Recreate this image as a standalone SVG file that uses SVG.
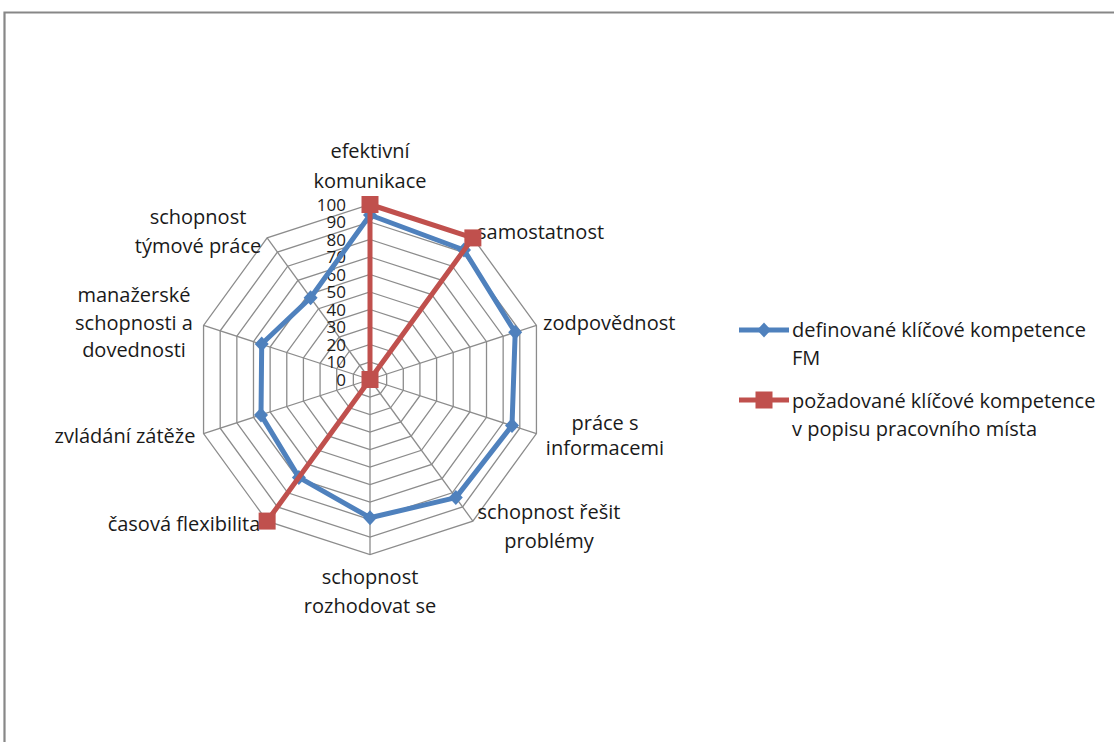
<svg xmlns="http://www.w3.org/2000/svg" xmlns:xlink="http://www.w3.org/1999/xlink" width="1114" height="742" viewBox="0 0 1114 742">
<style>
text{font-family:"Open Sans","Noto Sans","DejaVu Sans",sans-serif;font-size:20px;fill:#1a1a1a}
.tick{text-anchor:end;font-size:17px}
.mid{text-anchor:middle}
.grid polygon{fill:none;stroke:#8c8c8c;stroke-width:1.3}
.spoke{stroke:#8c8c8c;stroke-width:1.3}
.blue{fill:none;stroke:#4F81BD;stroke-width:5;stroke-linejoin:round}
.red{fill:none;stroke:#C0504D;stroke-width:5;stroke-linejoin:round}
</style>
<defs>
<polygon id="dia" points="0,-7.5 7,0 0,7.5 -7,0" fill="#4F81BD"/>
<rect id="sq" x="-8.5" y="-8.5" width="17" height="17" fill="#C0504D"/>
</defs>
<rect width="1114" height="742" fill="#fff"/>
<path d="M4.5,742 V12.5 H1114" fill="none" stroke="#878787" stroke-width="2.2"/>
<g id="grid">
<g class="grid" transform="translate(370 379.5)">
<polygon points="0,-17.5 10.29,-14.16 16.64,-5.41 16.64,5.41 10.29,14.16 0,17.5 -10.29,14.16 -16.64,5.41 -16.64,-5.41 -10.29,-14.16"/>
<polygon points="0,-35 20.57,-28.32 33.29,-10.82 33.29,10.82 20.57,28.32 0,35 -20.57,28.32 -33.29,10.82 -33.29,-10.82 -20.57,-28.32"/>
<polygon points="0,-52.5 30.86,-42.47 49.93,-16.22 49.93,16.22 30.86,42.47 0,52.5 -30.86,42.47 -49.93,16.22 -49.93,-16.22 -30.86,-42.47"/>
<polygon points="0,-70 41.15,-56.63 66.58,-21.63 66.58,21.63 41.15,56.63 0,70 -41.15,56.63 -66.58,21.63 -66.58,-21.63 -41.15,-56.63"/>
<polygon points="0,-87.5 51.43,-70.79 83.22,-27.04 83.22,27.04 51.43,70.79 0,87.5 -51.43,70.79 -83.22,27.04 -83.22,-27.04 -51.43,-70.79"/>
<polygon points="0,-105 61.72,-84.95 99.87,-32.45 99.87,32.45 61.72,84.95 0,105 -61.72,84.95 -99.87,32.45 -99.87,-32.45 -61.72,-84.95"/>
<polygon points="0,-122.5 72.01,-99.1 116.51,-37.85 116.51,37.85 72.01,99.1 0,122.5 -72.01,99.1 -116.51,37.85 -116.51,-37.85 -72.01,-99.1"/>
<polygon points="0,-140 82.29,-113.26 133.15,-43.26 133.15,43.26 82.29,113.26 0,140 -82.29,113.26 -133.15,43.26 -133.15,-43.26 -82.29,-113.26"/>
<polygon points="0,-157.5 92.58,-127.42 149.8,-48.67 149.8,48.67 92.58,127.42 0,157.5 -92.58,127.42 -149.8,48.67 -149.8,-48.67 -92.58,-127.42"/>
<polygon points="0,-175 102.87,-141.58 166.44,-54.08 166.44,54.08 102.87,141.58 0,175 -102.87,141.58 -166.44,54.08 -166.44,-54.08 -102.87,-141.58"/>
</g>
<g class="spoke">
<line x1="370" y1="379.5" x2="370" y2="204.5"/>
<line x1="370" y1="379.5" x2="472.87" y2="237.92"/>
<line x1="370" y1="379.5" x2="536.44" y2="325.42"/>
<line x1="370" y1="379.5" x2="536.44" y2="433.58"/>
<line x1="370" y1="379.5" x2="472.87" y2="521.08"/>
<line x1="370" y1="379.5" x2="370" y2="554.5"/>
<line x1="370" y1="379.5" x2="267.13" y2="521.08"/>
<line x1="370" y1="379.5" x2="203.56" y2="433.58"/>
<line x1="370" y1="379.5" x2="203.56" y2="325.42"/>
<line x1="370" y1="379.5" x2="267.13" y2="237.92"/>
</g>
</g>
<g id="ticks">
<text class="tick" x="346" y="385.5">0</text>
<text class="tick" x="346" y="368">10</text>
<text class="tick" x="346" y="350.5">20</text>
<text class="tick" x="346" y="333">30</text>
<text class="tick" x="346" y="315.5">40</text>
<text class="tick" x="346" y="298">50</text>
<text class="tick" x="346" y="280.5">60</text>
<text class="tick" x="346" y="263">70</text>
<text class="tick" x="346" y="245.5">80</text>
<text class="tick" x="346" y="228">90</text>
<text class="tick" x="346" y="210.5">100</text>
</g>
<g id="labels">
<g id="lbl-efektivni"><text class="mid" x="370" y="158">efektivní</text><text class="mid" x="370" y="188">komunikace</text></g>
<g id="lbl-samostatnost"><text x="477" y="239">samostatnost</text></g>
<g id="lbl-zodpovednost"><text x="543" y="330">zodpovědnost</text></g>
<g id="lbl-prace"><text class="mid" x="605" y="430">práce s</text><text class="mid" x="605" y="455">informacemi</text></g>
<g id="lbl-resit"><text class="mid" x="549" y="519">schopnost řešit</text><text class="mid" x="549" y="548">problémy</text></g>
<g id="lbl-rozhodovat"><text class="mid" x="370" y="584">schopnost</text><text class="mid" x="370" y="613">rozhodovat se</text></g>
<g id="lbl-casova"><text class="mid" x="184" y="531">časová flexibilita</text></g>
<g id="lbl-zatez"><text class="mid" x="125" y="443">zvládání zátěže</text></g>
<g id="lbl-manazer"><text class="mid" x="134" y="302">manažerské</text><text class="mid" x="134" y="330">schopnosti a</text><text class="mid" x="134" y="357">dovednosti</text></g>
<g id="lbl-tym"><text class="mid" x="198" y="224">schopnost</text><text class="mid" x="198" y="253">týmové práce</text></g>
</g>
<g id="connectors">
<g id="series-blue">
<polygon class="blue" points="370,215 464,250 515.2,332.3 512,425.6 455.8,497.6 370,517.7 298.9,477.4 261,414.9 261.7,344 310.6,297.8"/>
<use xlink:href="#dia" x="370" y="215"/>
<use xlink:href="#dia" x="464" y="250"/>
<use xlink:href="#dia" x="515.2" y="332.3"/>
<use xlink:href="#dia" x="512" y="425.6"/>
<use xlink:href="#dia" x="455.8" y="497.6"/>
<use xlink:href="#dia" x="370" y="517.7"/>
<use xlink:href="#dia" x="298.9" y="477.4"/>
<use xlink:href="#dia" x="261" y="414.9"/>
<use xlink:href="#dia" x="261.7" y="344"/>
<use xlink:href="#dia" x="310.6" y="297.8"/>
</g>
<g id="series-red">
<polygon class="red" points="370,204.5 472.87,237.92 370,379.5 370,379.5 370,379.5 370,379.5 267.13,521.08 370,379.5 370,379.5 370,379.5"/>
<use xlink:href="#sq" x="370" y="204.5"/>
<use xlink:href="#sq" x="472.87" y="237.92"/>
<use xlink:href="#sq" x="370" y="379.5"/>
<use xlink:href="#sq" x="267.13" y="521.08"/>
</g>
</g>
<g id="legend">
<g id="legend-blue">
<line x1="739" y1="330" x2="789" y2="330" stroke="#4F81BD" stroke-width="5"/>
<use xlink:href="#dia" x="764" y="330"/>
<text x="792" y="337">definované klíčové kompetence</text>
<text x="792" y="365">FM</text>
</g>
<g id="legend-red">
<line x1="739" y1="400" x2="789" y2="400" stroke="#C0504D" stroke-width="5"/>
<use xlink:href="#sq" x="764" y="400"/>
<text x="792" y="408">požadované klíčové kompetence</text>
<text x="792" y="436">v popisu pracovního místa</text>
</g>
</g>
</svg>
